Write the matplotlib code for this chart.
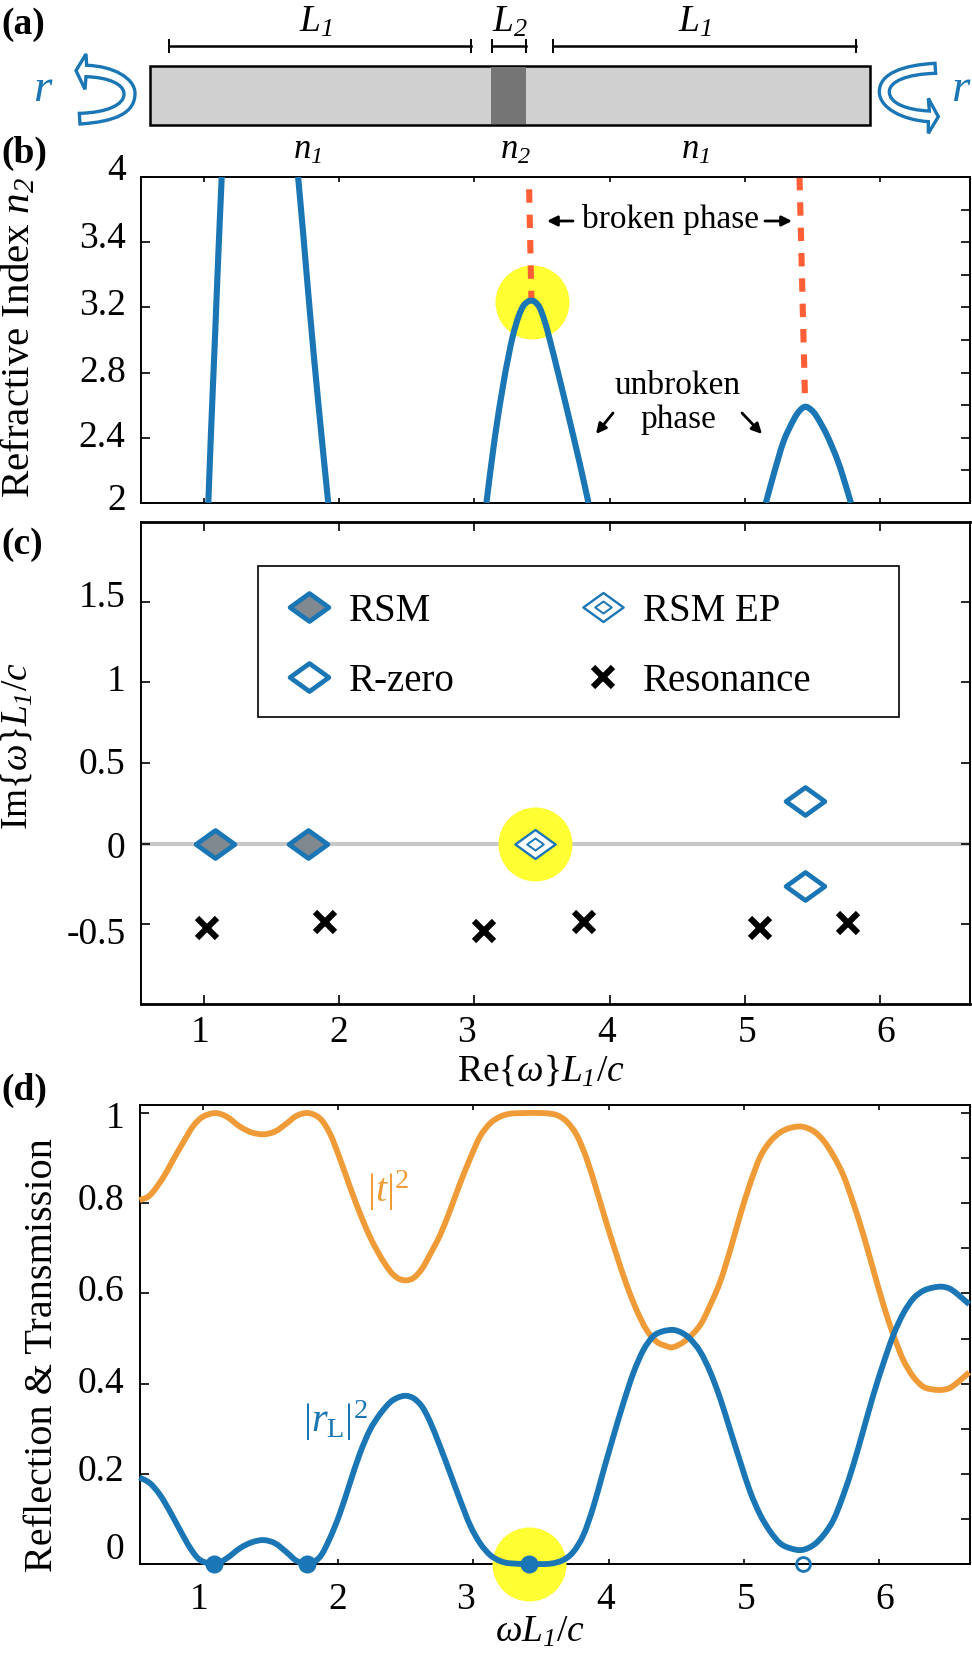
import matplotlib
matplotlib.use('Agg')
import matplotlib.pyplot as plt
from matplotlib.legend_handler import HandlerTuple
from matplotlib.lines import Line2D
from matplotlib.markers import MarkerStyle
from matplotlib.patches import PathPatch, Rectangle
from matplotlib.path import Path
from matplotlib.ticker import FixedLocator
from matplotlib.transforms import Affine2D

plt.rcParams['font.family'] = ['Liberation Serif', 'DejaVu Sans']
plt.rcParams['mathtext.fontset'] = 'custom'
plt.rcParams['mathtext.rm'] = 'Liberation Serif'
plt.rcParams['mathtext.it'] = 'Liberation Serif:italic'
plt.rcParams['mathtext.cal'] = 'Liberation Serif:italic'

W, H = 972, 1658
BLUE = '#1a76b4'
ORANGE = '#ef9b37'
RED = '#ff5f36'
YELLOW = '#ffff33'

# (b) ветви показателя преломления
arch_a_x = [1.032, 1.052, 1.081, 1.106, 1.131]
arch_a_y = [2.0, 2.437, 3.01, 3.524, 4.0]
arch_b_x = [1.696, 1.736, 1.785, 1.847, 1.919]
arch_b_y = [4.0, 3.63, 3.155, 2.6, 2.0]
arch_c_x = [3.089, 3.151, 3.212, 3.25, 3.286, 3.325, 3.36, 3.395, 3.422, 3.45, 3.484, 3.52, 3.558, 3.632, 3.706, 3.78, 3.844]
arch_c_y = [2.0, 2.40, 2.72, 2.89, 3.03, 3.14, 3.206, 3.235, 3.241, 3.232, 3.196, 3.115, 3.0, 2.755, 2.50, 2.24, 2.0]
arch_d_x = [5.156, 5.212, 5.286, 5.36, 5.405, 5.447, 5.49, 5.533, 5.607, 5.681, 5.731, 5.785]
arch_d_y = [2.0, 2.17, 2.375, 2.508, 2.565, 2.59, 2.572, 2.529, 2.417, 2.273, 2.15, 2.0]
broken_a_x = [3.405, 3.422]
broken_a_y = [3.924, 3.241]
broken_b_x = [5.405, 5.447]
broken_b_y = [4.0, 2.59]

# (c) комплексная плоскость
rsm_x = [1.08, 1.772]
rsm_y = [0, 0]
ep_x = [3.45]
ep_y = [0]
rzero_x = [5.447, 5.447]
rzero_y = [0.264, -0.264]
res_x = [1.025, 1.892, 3.071, 3.81, 5.113, 5.76]
res_y = [-0.523, -0.486, -0.541, -0.486, -0.523, -0.493]

# (d) спектры
t_x = [0.53, 0.608, 0.707, 0.78, 0.855, 0.929, 1.0, 1.089, 1.175, 1.273, 1.36, 1.446, 1.532, 1.618, 1.692, 1.778,
       1.865, 1.938, 2.012, 2.086, 2.16, 2.234, 2.308, 2.382, 2.44, 2.5, 2.56, 2.62, 2.68, 2.754, 2.828, 2.901, 2.975,
       3.049, 3.123, 3.197, 3.271, 3.369, 3.517, 3.616, 3.69, 3.764, 3.837, 3.911, 3.985, 4.059, 4.133, 4.207,
       4.281, 4.355, 4.42, 4.478, 4.576, 4.677, 4.751, 4.825, 4.899, 4.973, 5.047, 5.121, 5.195, 5.268, 5.342, 5.429,
       5.515, 5.589, 5.663, 5.736, 5.81, 5.884, 5.958, 6.032, 6.106, 6.18, 6.254, 6.328, 6.40, 6.463, 6.52, 6.574, 6.667]
t_y = [0.807, 0.818, 0.858, 0.897, 0.936, 0.972, 0.992, 1.0, 0.992, 0.97, 0.957, 0.953, 0.959, 0.977, 0.994, 1.0,
       0.988, 0.955, 0.899, 0.837, 0.778, 0.726, 0.684, 0.650, 0.634, 0.629, 0.635, 0.655, 0.687, 0.73, 0.785, 0.844, 0.899,
       0.948, 0.977, 0.992, 0.9985, 1.0, 1.0, 0.9955, 0.981, 0.951, 0.899, 0.829, 0.755, 0.685, 0.619, 0.563,
       0.519, 0.493, 0.484, 0.481, 0.497, 0.53, 0.574, 0.626, 0.696, 0.774, 0.844, 0.903, 0.937, 0.957, 0.967, 0.97,
       0.960, 0.939, 0.905, 0.862, 0.8, 0.73, 0.652, 0.575, 0.508, 0.452, 0.415, 0.393, 0.387, 0.386, 0.390, 0.401, 0.425]
r_x = [0.53, 0.608, 0.682, 0.756, 0.83, 0.904, 0.978, 1.089, 1.175, 1.273, 1.36, 1.446, 1.532, 1.618, 1.692, 1.778,
       1.865, 1.938, 2.012, 2.086, 2.16, 2.234, 2.308, 2.382, 2.44, 2.5, 2.56, 2.62, 2.68, 2.754, 2.828, 2.901, 2.975,
       3.049, 3.123, 3.197, 3.271, 3.419, 3.567, 3.665, 3.739, 3.813, 3.887, 3.96, 4.034, 4.108, 4.182, 4.256,
       4.33, 4.40, 4.478, 4.54, 4.6, 4.677, 4.751, 4.825, 4.899, 4.973, 5.047, 5.121, 5.195, 5.268, 5.342, 5.429, 5.515,
       5.589, 5.663, 5.736, 5.81, 5.884, 5.958, 6.032, 6.106, 6.18, 6.254, 6.328, 6.40, 6.463, 6.52, 6.574, 6.667]
r_y = [0.192, 0.179, 0.153, 0.116, 0.075, 0.036, 0.009, 0.0, 0.0126, 0.035, 0.048, 0.053, 0.046, 0.026, 0.007, 0.0,
       0.016, 0.057, 0.112, 0.179, 0.245, 0.297, 0.332, 0.358, 0.369, 0.373, 0.367, 0.349, 0.315, 0.26, 0.201, 0.142, 0.086,
       0.046, 0.02, 0.0067, 0.0015, 0.0, 0.0007, 0.009, 0.027, 0.064, 0.127, 0.205, 0.282, 0.356, 0.423, 0.474,
       0.505, 0.516, 0.519, 0.513, 0.5, 0.471, 0.426, 0.367, 0.297, 0.227, 0.16, 0.109, 0.072, 0.046, 0.035, 0.031, 0.042,
       0.064, 0.098, 0.153, 0.22, 0.297, 0.375, 0.445, 0.508, 0.556, 0.589, 0.606, 0.613, 0.615, 0.611, 0.6, 0.576]
zero_x = [1.079, 1.768, 3.414]
zero_y = [0, 0, 0]
open_x = [5.436]
open_y = [0]

x_ticks = [1, 2, 3, 4, 5, 6]
b_ticks = [2, 2.4, 2.8, 3.2, 3.6, 4]
b_labels = ['2', '2.4', '2.8', '3.2', '3.4', '4']
b_minor = [2.2, 2.6, 3.0, 3.4, 3.8]
c_ticks = [-0.5, 0, 0.5, 1, 1.5]
c_labels = ['-0.5', '0', '0.5', '1', '1.5']
d_ticks = [0, 0.2, 0.4, 0.6, 0.8, 1]
d_labels = ['0', '0.2', '0.4', '0.6', '0.8', '1']
d_minor = [0.1, 0.3, 0.5, 0.7, 0.9]

# пиксели от левого верхнего угла
px = Affine2D().scale(1, -1).translate(0, H)

fig = plt.figure(figsize=(W / 100, H / 100 + 0.001), dpi=100)


def make_axes(left, right, top, bottom):
    return fig.add_axes([left / W, 1 - bottom / H, (right - left) / W, (bottom - top) / H])


def style_axes(ax, xlen, xlabels=True):
    ax.set_xticks(x_ticks)
    ax.tick_params(axis='both', which='both', direction='in', top=True, right=True, width=1.2)
    ax.tick_params(axis='x', length=xlen, labelsize=27, pad=8, labelbottom=xlabels)
    ax.tick_params(axis='y', which='major', length=6.5, labelsize=27, pad=11)
    ax.tick_params(axis='y', which='minor', length=6.5, left=False)
    for s in ax.spines.values():
        s.set_linewidth(1.4)


def nudge(labels, dx=None, dy=None):
    for i, lab in enumerate(labels):
        a = dx[i] if dx else 0
        b = dy[i] if dy else 0
        lab.set_transform(lab.get_transform() + Affine2D().translate(a, -b))


def diamond(w=1.0, h=0.72):
    verts = [(-w / 2, 0), (0, h / 2), (w / 2, 0), (0, -h / 2), (-w / 2, 0)]
    codes = [Path.MOVETO, Path.LINETO, Path.LINETO, Path.LINETO, Path.CLOSEPOLY]
    return MarkerStyle(Path(verts, codes), joinstyle='miter')


def curve(ax, xs, ys, **kw):
    # гладкая линия через считанные точки (кривые Безье)
    verts = [(xs[0], ys[0])]
    n = len(xs)
    for i in range(n - 1):
        i0 = max(i - 1, 0)
        i3 = min(i + 2, n - 1)
        verts.append((xs[i] + (xs[i + 1] - xs[i0]) / 6, ys[i] + (ys[i + 1] - ys[i0]) / 6))
        verts.append((xs[i + 1] - (xs[i3] - xs[i]) / 6, ys[i + 1] - (ys[i3] - ys[i]) / 6))
        verts.append((xs[i + 1], ys[i + 1]))
    codes = [Path.MOVETO] + [Path.CURVE4] * (len(verts) - 1)
    return ax.add_patch(PathPatch(Path(verts, codes), fill=False, **kw))


# (a) схема
fig.add_artist(Rectangle((150, 66), 720, 59, transform=px, fc='#d0d0d0', ec='black', lw=1.8))
fig.add_artist(Rectangle((491, 67), 34.8, 57, transform=px, fc='#757575', ec='none'))

for x0, x1 in [(169, 471), (491.6, 526), (553, 856)]:
    fig.add_artist(Line2D([x0, x1], [45.7, 45.7], transform=px, color='black', lw=1.8))
    fig.add_artist(Line2D([x0, x0], [39.5, 52], transform=px, color='black', lw=1.4))
    fig.add_artist(Line2D([x1, x1], [39.5, 52], transform=px, color='black', lw=1.4))

for x, s in [(316, r'$L_{\mathcal{1}}$'), (510, r'$L_{\mathcal{2}}$'), (695, r'$L_{\mathcal{1}}$')]:
    fig.text(x, 22, s, transform=px, fontsize=27, ha='center', va='center')
for x, s in [(307, r'$n_{\mathcal{1}}$'), (515, r'$n_{\mathcal{2}}$'), (695, r'$n_{\mathcal{1}}$')]:
    fig.text(x, 150, s, transform=px, fontsize=25, ha='center', va='center')


def zoom_coords(pts, x0):
    return [(x0 + x / 3, 50 + y / 3) for x, y in pts]


C4 = Path.CURVE4
L = Path.LINETO
left_pts = [(150, 222), (255, 215), (315, 190), (315, 130), (315, 85), (250, 48), (170, 46),
            (168, 12), (138, 62), (165, 118), (168, 80),
            (230, 82), (282, 100), (282, 132), (282, 165), (230, 188), (148, 190), (150, 222)]
right_pts = [(225, 40), (130, 45), (58, 70), (58, 125), (58, 175), (130, 210), (205, 215),
             (205, 250), (235, 200), (205, 145), (208, 183),
             (140, 180), (88, 160), (88, 125), (88, 95), (140, 72), (227, 70), (225, 40)]
arrow_codes = [Path.MOVETO, C4, C4, C4, C4, C4, C4, L, L, L, L, C4, C4, C4, C4, C4, C4, Path.CLOSEPOLY]
for pts, x0 in [(left_pts, 30), (right_pts, 860)]:
    fig.add_artist(PathPatch(Path(zoom_coords(pts, x0), arrow_codes), transform=px, fc='white', ec=BLUE, lw=2.4))
fig.text(43, 90, r'$r$', transform=px, fontsize=34, color=BLUE, ha='center', va='center')
fig.text(961, 90, r'$r$', transform=px, fontsize=34, color=BLUE, ha='center', va='center')

for y, s in [(24, '(a)'), (153, '(b)'), (544, '(c)'), (1090, '(d)')]:
    fig.text(1, y, s, transform=px, fontsize=27, fontweight='bold', ha='left', va='center')

# (b)
ax_b = make_axes(141, 970, 177, 503)
ax_b.scatter([3.425], [3.23], s=2838, color=YELLOW, linewidths=0, zorder=1)
for xs, ys in [(arch_a_x, arch_a_y), (arch_b_x, arch_b_y), (arch_c_x, arch_c_y), (arch_d_x, arch_d_y)]:
    curve(ax_b, xs, ys, ec=BLUE, lw=4.4, zorder=3)
for xs, ys in [(broken_a_x, broken_a_y), (broken_b_x, broken_b_y)]:
    ax_b.plot(xs, ys, color=RED, lw=4.4, dashes=(2.2, 1.95), zorder=2)
ax_b.set_xlim(0.534, 6.666)
ax_b.set_ylim(2, 4)
ax_b.set_yticks(b_ticks)
ax_b.set_yticklabels(b_labels)
ax_b.yaxis.set_minor_locator(FixedLocator(b_minor))
style_axes(ax_b, 3.6, xlabels=False)
nudge(ax_b.get_yticklabels(), dy=[-6, -4, -4, -6, -7, -10])
ax_b.set_ylabel(r'Refractive Index $n_{\mathcal{2}}$', fontsize=29.5, va='center')
ax_b.yaxis.set_label_coords(19, 338, transform=px)

fig.text(671, 219, 'broken phase', transform=px, fontsize=24, ha='center', va='center')
fig.text(678, 386, 'unbroken', transform=px, fontsize=24, ha='center', va='center')
fig.text(678, 420, 'phase', transform=px, fontsize=24, ha='center', va='center')
for start, end in [((573, 221), (547, 221)), ((765, 221), (792, 221)), ((613, 413), (596, 434)), ((742, 413), (762, 434))]:
    ax_b.annotate('', xy=px.transform(end), xytext=px.transform(start), xycoords='figure pixels',
                  textcoords='figure pixels',
                  arrowprops=dict(arrowstyle='-|>', color='black', lw=2.0, mutation_scale=15, shrinkA=0, shrinkB=0))

# (c)
ax_c = make_axes(141, 970, 522, 1004)
ax_c.axhline(0, color='#c8c8c8', lw=3.0, zorder=1)
ax_c.scatter(ep_x, ep_y, s=2838, color=YELLOW, linewidths=0, zorder=2)
rsm_style = dict(ls='none', marker=diamond(), ms=28, mew=3.4, mec=BLUE, mfc='#808890')
rzero_style = dict(ls='none', marker=diamond(), ms=28, mew=3.4, mec=BLUE, mfc='white')
res_style = dict(ls='none', marker='x', ms=15, mew=4.4, color='black')
ep_outer = dict(ls='none', marker=diamond(), ms=29, mew=1.7, mec=BLUE, mfc='white')
ep_inner = dict(ls='none', marker=diamond(), ms=12, mew=1.4, mec=BLUE, mfc='white')
ax_c.plot(rsm_x, rsm_y, zorder=4, **rsm_style)
ax_c.plot(rzero_x, rzero_y, zorder=4, **rzero_style)
ax_c.plot(ep_x, ep_y, zorder=4, **ep_outer)
ax_c.plot(ep_x, ep_y, zorder=5, **ep_inner)
ax_c.plot(res_x, res_y, zorder=4, **res_style)
ax_c.set_xlim(0.534, 6.666)
ax_c.set_ylim(-0.993, 1.993)
ax_c.set_yticks(c_ticks)
ax_c.set_yticklabels(c_labels)
style_axes(ax_c, 6.5)
for side in ['top', 'bottom']:
    ax_c.spines[side].set_linewidth(2.0)
nudge(ax_c.get_yticklabels(), dy=[6, 1, -2, -5, -8])
nudge(ax_c.get_xticklabels(), dx=[-4, 0, -8, -3, 2, 6])
ax_c.set_xlabel(r'Re{$\omega$}$L_{\mathcal{1}}/c$', fontsize=27, va='center')
ax_c.xaxis.set_label_coords(541, 1071, transform=px)
ax_c.set_ylabel(r'Im{$\omega$}$L_{\mathcal{1}}/c$', fontsize=27, va='center')
ax_c.yaxis.set_label_coords(17, 746, transform=px)

ax_c.add_patch(Rectangle((258.2, 565.6), 641.2, 151.4, transform=px, fc='white', ec='black', lw=1.2, zorder=6))
handles = [Line2D([], [], **rsm_style), Line2D([], [], **rzero_style),
           (Line2D([], [], **ep_outer), Line2D([], [], **ep_inner)), Line2D([], [], **res_style)]
leg = ax_c.legend(handles, ['RSM', 'R-zero', 'RSM EP', 'Resonance'], ncols=2, frameon=False, fontsize=28,
                  loc='upper left', bbox_to_anchor=((258.2 - 141) / 829, (1004 - 561.6) / 482),
                  borderaxespad=0, borderpad=0.8, handlelength=1.0, handletextpad=0.54,
                  labelspacing=0.85, columnspacing=3.3, numpoints=1,
                  handler_map={tuple: HandlerTuple(ndivide=1, pad=0)})
leg.set_zorder(7)

# (d)
ax_d = make_axes(139.5, 969.5, 1105, 1564)
ax_d.scatter([3.414], [0], s=2838, color=YELLOW, linewidths=0, zorder=3, clip_on=False)
curve(ax_d, t_x, t_y, ec=ORANGE, lw=4.2, zorder=4, clip_on=False)
curve(ax_d, r_x, r_y, ec=BLUE, lw=4.2, zorder=5, clip_on=False)
ax_d.plot(zero_x, zero_y, ls='none', marker='o', ms=13, color=BLUE, mew=0, zorder=6, clip_on=False)
ax_d.plot(open_x, open_y, ls='none', marker='o', ms=10, mfc='none', mec=BLUE, mew=2.0, zorder=6, clip_on=False)
ax_d.set_xlim(0.53, 6.669)
ax_d.set_ylim(0, 1.018)
ax_d.set_yticks(d_ticks)
ax_d.set_yticklabels(d_labels)
ax_d.yaxis.set_minor_locator(FixedLocator(d_minor))
style_axes(ax_d, 3.6)
ax_d.tick_params(axis='x', pad=13)
nudge(ax_d.get_yticklabels(), dy=[-18, -6, -4, -6, -7, 2])
nudge(ax_d.get_xticklabels(), dx=[-4, 0, -8, -3, 2, 6])
ax_d.set_xlabel(r'$\omega L_{\mathcal{1}}/c$', fontsize=27, va='center')
ax_d.xaxis.set_label_coords(540, 1632, transform=px)
ax_d.set_ylabel('Reflection & Transmission', fontsize=29, va='center')
ax_d.yaxis.set_label_coords(43, 1355, transform=px)
fig.text(388, 1191, r'$|t|^{2}$', transform=px, fontsize=29, color=ORANGE, ha='center', va='center')
fig.text(335, 1421, r'$|r_{\mathrm{L}}|^{2}$', transform=px, fontsize=29, color=BLUE, ha='center', va='center')

fig.savefig('out.png', dpi=100)
